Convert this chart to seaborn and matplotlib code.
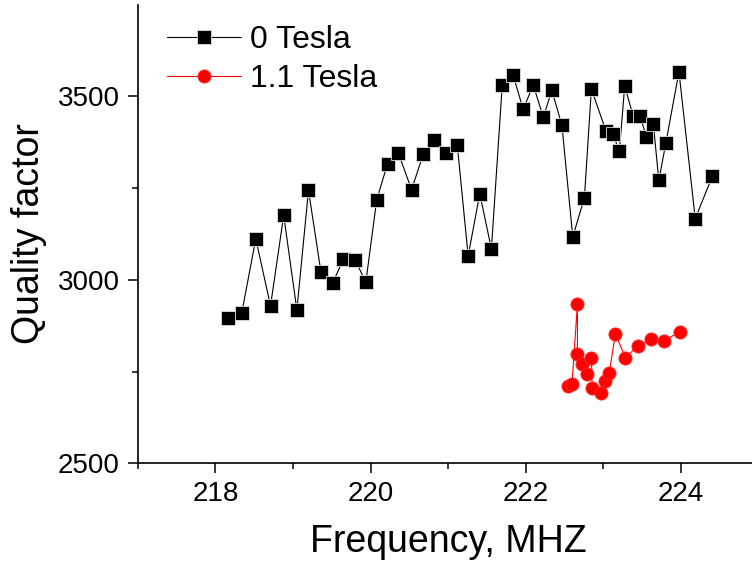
import matplotlib
matplotlib.use("Agg")
import matplotlib.pyplot as plt
import pandas as pd
import seaborn as sns

sns.set_theme(style="ticks", context="notebook")
plt.rcParams['font.family'] = ['Liberation Sans', 'DejaVu Sans']
plt.rcParams['text.color'] = 'black'
plt.rcParams['axes.labelcolor'] = 'black'

# 0 Tesla measurement
freq_0T = [
    218.16, 218.34, 218.52, 218.71, 218.88, 219.05, 219.20, 219.36, 219.51,
    219.65, 219.80, 219.94, 220.08, 220.22, 220.36, 220.53, 220.68, 220.82,
    220.98, 221.12, 221.26, 221.41, 221.56, 221.70, 221.84, 221.97, 222.10,
    222.23, 222.34, 222.47, 222.61, 222.76, 222.85, 223.04, 223.13, 223.21,
    223.28, 223.39, 223.48, 223.56, 223.65, 223.72, 223.81, 223.98, 224.19,
    224.41
]
q_0T = [
    2897, 2911, 3112, 2929, 3176, 2918, 3244, 3022, 2991, 3056, 3055, 2994,
    3218, 3317, 3345, 3246, 3342, 3380, 3347, 3367, 3065, 3235, 3084, 3531,
    3558, 3465, 3531, 3443, 3517, 3421, 3117, 3224, 3520, 3405, 3397, 3350,
    3528, 3446, 3446, 3389, 3424, 3271, 3372, 3567, 3167, 3282
]

# 1.1 Tesla measurement
freq_11T = [
    222.55, 222.60, 222.67, 222.67, 222.73, 222.79, 222.85, 222.86, 222.98,
    223.02, 223.08, 223.16, 223.29, 223.45, 223.62, 223.79, 223.99
]
q_11T = [
    2712, 2716, 2934, 2797, 2772, 2744, 2788, 2704, 2692, 2725, 2745, 2853,
    2787, 2821, 2838, 2834, 2859
]

df0 = pd.DataFrame({'freq': freq_0T, 'q': q_0T})
df1 = pd.DataFrame({'freq': freq_11T, 'q': q_11T})

fig = plt.figure(figsize=(7.52, 5.67), dpi=100)
ax = fig.add_axes([0.1835, 0.1829, 0.8245, 0.8088])

sns.lineplot(data=df0, x='freq', y='q', sort=False, estimator=None, ax=ax,
             color='black', linewidth=0.8, marker='s', markersize=9.5,
             markeredgecolor='#e0e0e0', markeredgewidth=0.6,
             markerfacecolor='black', label='0 Tesla')
sns.lineplot(data=df1, x='freq', y='q', sort=False, estimator=None, ax=ax,
             color='red', linewidth=0.8, marker='o', markersize=9.5,
             markeredgecolor='#ff3030', markeredgewidth=0.6,
             markerfacecolor='red', label='1.1 Tesla')

ax.set_xlim(217, 225)
ax.set_ylim(2500, 3750)
ax.set_xticks([218, 220, 222, 224])
ax.set_xticks([217, 219, 221, 223], minor=True)
ax.set_yticks([2500, 3000, 3500])
ax.set_yticks([2750, 3250], minor=True)
ax.tick_params(which='major', direction='out', length=7, width=1.1,
               labelsize=20, colors='black', pad=6)
ax.tick_params(which='minor', direction='out', length=4, width=1.1,
               colors='black')
sns.despine(ax=ax)
for s in ['left', 'bottom']:
    ax.spines[s].set_linewidth(1.2)
    ax.spines[s].set_color('black')

ax.set_xlabel('Frequency, MHZ', fontsize=27, labelpad=12)
ax.set_ylabel('Quality factor', fontsize=27, labelpad=8)

leg = ax.legend(loc='upper left', bbox_to_anchor=(0.032, 0.977),
                frameon=False, fontsize=23, handlelength=2.3,
                handletextpad=0.3, labelspacing=0.3, borderaxespad=0.0,
                borderpad=0.3)

fig.savefig('out.png', dpi=100)
